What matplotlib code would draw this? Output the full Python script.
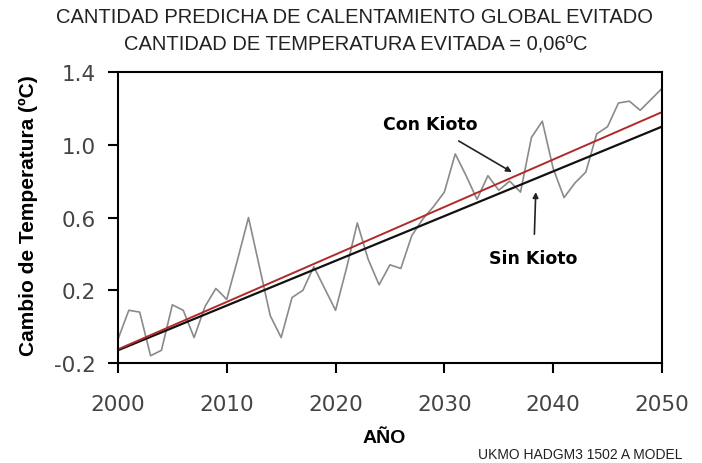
import matplotlib
matplotlib.use("Agg")
import matplotlib.pyplot as plt
import numpy as np

# model run, yearly values
years = np.arange(2000, 2051)
temp = [-0.07, 0.09, 0.08, -0.16, -0.13, 0.12, 0.09, -0.06, 0.11, 0.21,
        0.15, 0.37, 0.60, 0.33, 0.06, -0.06, 0.16, 0.20, 0.33, 0.21,
        0.09, 0.32, 0.57, 0.37, 0.23, 0.34, 0.32, 0.50, 0.59, 0.66,
        0.74, 0.95, 0.83, 0.70, 0.83, 0.75, 0.80, 0.74, 1.04, 1.13,
        0.87, 0.71, 0.79, 0.85, 1.06, 1.10, 1.23, 1.24, 1.19, 1.25,
        1.31]

trend_years = [2000, 2050]
sin_kioto = [-0.13, 1.10]
con_kioto = [-0.125, 1.18]

xticks = [2000, 2010, 2020, 2030, 2040, 2050]
yticks = [-0.2, 0.2, 0.6, 1.0, 1.4]
ylabels = ["-0.2", "0.2", "0.6", "1.0", "1.4"]

ARIAL = ["Liberation Sans", "DejaVu Sans"]

fig = plt.figure(figsize=(7.02, 4.64), dpi=100)
ax = fig.add_axes([0.168, 0.2155, 0.775, 0.627])

ax.plot(years, temp, color="#8a8a8a", lw=1.2)
ax.plot(trend_years, sin_kioto, color="#111111", lw=1.6)
ax.plot(trend_years, con_kioto, color="#b02a2a", lw=1.4)

ax.set_xlim(2000, 2050)
ax.set_ylim(-0.2, 1.4)
ax.set_xticks(xticks)
ax.set_yticks(yticks)
ax.set_yticklabels(ylabels)
ax.tick_params(axis="both", direction="out", length=7, width=1.5,
               labelsize=15.5, labelcolor="#444444")
ax.tick_params(axis="x", pad=15)
ax.tick_params(axis="y", pad=9)
for s in ax.spines.values():
    s.set_linewidth(1.5)

ax.annotate("Con Kioto", xy=(2036.2, 0.85), xytext=(2028.7, 1.113),
            ha="center", va="center", fontsize=12.5, fontweight="bold",
            arrowprops=dict(arrowstyle="-|>", color="#222222", lw=1.2,
                            mutation_scale=8, shrinkA=7, shrinkB=0))
ax.annotate("Sin Kioto", xy=(2038.4, 0.74), xytext=(2038.2, 0.375),
            ha="center", va="center", fontsize=12.5, fontweight="bold",
            arrowprops=dict(arrowstyle="-|>", color="#222222", lw=1.2,
                            mutation_scale=8, shrinkA=9, shrinkB=0))

fig.text(0.505, 0.962, "CANTIDAD PREDICHA DE CALENTAMIENTO GLOBAL EVITADO",
         ha="center", va="center", fontsize=14.5, family=ARIAL, color="#222222")
fig.text(0.507, 0.903, "CANTIDAD DE TEMPERATURA EVITADA = 0,06ºC",
         ha="center", va="center", fontsize=14.5, family=ARIAL, color="#222222")

fig.text(0.04, 0.535, "Cambio de Temperatura (ºC)", rotation=90,
         ha="center", va="center", fontsize=15, fontweight="bold", family=ARIAL)
fig.text(0.548, 0.056, "AÑO", ha="center", va="center",
         fontsize=14, fontweight="bold", family=ARIAL)
fig.text(0.827, 0.02, "UKMO HADGM3 1502 A MODEL", ha="center", va="center",
         fontsize=10, family=ARIAL, color="#222222")

fig.savefig("out.png", dpi=100)
